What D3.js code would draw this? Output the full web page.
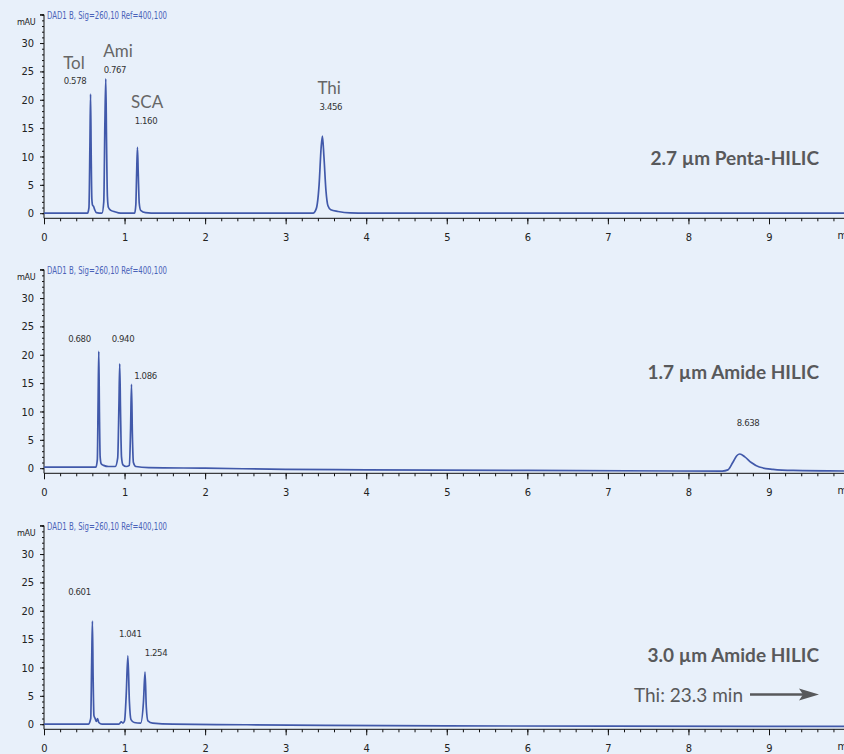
<!DOCTYPE html>
<html>
<head>
  <meta charset="utf-8">
  <script src="https://d3js.org/d3.v7.min.js"></script>
  <style>
    body { margin: 0; background: #e8f0fa; }
    svg { display: block; }
    .tick text { font-family: "Liberation Sans Narrow", "DejaVu Sans Condensed", sans-serif; font-size: 11px; fill: #222; }
    .axis path, .axis line { stroke: #111; }
    .trace { fill: none; stroke: #4159aa; stroke-width: 1.7px; }
    .sig { font-family: "Liberation Sans Narrow", "DejaVu Sans Condensed", sans-serif; font-size: 10px; fill: #4a62b8; }
    .unit { font-family: "Liberation Sans Narrow", "DejaVu Sans Condensed", sans-serif; font-size: 9px; fill: #222; letter-spacing: -0.3px; }
    .rt { font-family: "Liberation Sans Narrow", "DejaVu Sans Condensed", sans-serif; font-size: 9.5px; fill: #333; letter-spacing: -0.4px; }
    .cmp { font-family: Lato, "Open Sans", sans-serif; font-size: 17px; fill: #666; }
    .title { font-family: Lato, "Open Sans", sans-serif; font-size: 19px; font-weight: bold; fill: #58595b; }
    .note { font-family: Lato, "Open Sans", sans-serif; font-size: 19px; fill: #58595b; }
  </style>
</head>
<body>
<script>
  var width = 844,
      height = 754;

  // column names, one per panel
  var columns = ["2.7 µm Penta-HILIC", "1.7 µm Amide HILIC", "3.0 µm Amide HILIC"];
  var signal = "DAD1 B, Sig=260,10 Ref=400,100";

  // traces: [time (min), mAU]
  var pentaTrace = [
    [0, 0], [0.54, 0], [0.558, 1], [0.57, 12], [0.578, 21], [0.586, 10], [0.594, 2.5],
    [0.603, 1.4], [0.615, 1.2], [0.63, 0.6], [0.65, 0.1], [0.72, 0], [0.742, 2],
    [0.756, 16], [0.767, 23.7], [0.776, 13], [0.787, 3], [0.8, 1], [0.83, 0.5], [0.87, 0.3],
    [0.95, 0], [1.125, 0], [1.14, 1.5], [1.15, 7], [1.16, 11.6], [1.17, 7], [1.182, 1.8],
    [1.2, 0.5], [1.26, 0.1], [1.4, 0], [3.34, 0], [3.38, 0.8], [3.415, 5], [3.44, 11.5],
    [3.456, 13.6], [3.475, 10], [3.5, 4], [3.525, 1.3], [3.56, 0.6], [3.65, 0.3], [3.8, 0.05],
    [4, 0], [10, 0]
  ];
  var amide17Trace = [
    [0, 0.2], [0.5, 0.2], [0.645, 0.2], [0.662, 1.5], [0.672, 12], [0.68, 20.6], [0.688, 10],
    [0.697, 2], [0.71, 0.8], [0.74, 0.5], [0.8, 0.3], [0.885, 0.3], [0.915, 1.8], [0.93, 11],
    [0.94, 18.4], [0.95, 10], [0.962, 2], [0.98, 0.6], [1.02, 0.3], [1.06, 0.5], [1.075, 7],
    [1.086, 14.8], [1.097, 6], [1.11, 1], [1.14, 0.3], [1.3, 0.1], [2, 0], [3, -0.2], [4, -0.3],
    [6, -0.4], [8.42, -0.5], [8.49, -0.3], [8.55, 1.0], [8.6, 2.2], [8.638, 2.5], [8.7, 2.0],
    [8.78, 1.0], [8.88, 0.2], [9.05, -0.2], [9.3, -0.4], [10, -0.5]
  ];
  var amide30Trace = [
    [0, 0], [0.55, 0], [0.58, 1], [0.592, 11], [0.601, 18.2], [0.61, 8], [0.62, 1.5],
    [0.635, 1.0], [0.65, 0.5], [0.665, 1.0], [0.68, 0.3], [0.72, 0], [0.93, 0], [0.96, 0.4],
    [0.98, 0.2], [1.0, 0.6], [1.02, 5], [1.041, 12.05], [1.06, 4], [1.08, 0.8], [1.12, 0.3],
    [1.2, 0.2], [1.235, 4], [1.254, 9.2], [1.27, 3], [1.29, 0.6], [1.35, 0.2], [1.6, 0],
    [2.5, -0.1], [3.5, -0.2], [5, -0.3], [7, -0.35], [10, -0.4]
  ];
  var traces = [pentaTrace, amide17Trace, amide30Trace];

  // peak annotations: [time, mAU, text]
  var pentaNames = [[0.372, 25.5, "Tol"], [0.918, 27.6, "Ami"], [1.28, 18.5, "SCA"], [3.54, 21, "Thi"]];
  var pentaTimes = [[0.385, 22.8, "0.578"], [0.88, 24.8, "0.767"], [1.266, 15.7, "1.160"], [3.56, 18.2, "3.456"]];
  var amide17Times = [[0.44, 22.3, "0.680"], [0.98, 22.3, "0.940"], [1.26, 15.8, "1.086"], [8.74, 7.4, "8.638"]];
  var amide30Times = [[0.44, 22.7, "0.601"], [1.07, 15.3, "1.041"], [1.39, 12, "1.254"]];
  var nameLabels = [pentaNames, [], []];
  var timeLabels = [pentaTimes, amide17Times, amide30Times];

  var xTicks = d3.range(0, 10, 1);
  var yTicks = d3.range(0, 31, 5);
  var note = "Thi: 23.3 min";

  var panelTop = [0, 255, 511];

  var svg = d3.select("body")
      .append("svg")
      .attr("width", width)
      .attr("height", height);

  var x = d3.scaleLinear().domain([0, 9]).range([44, 769]);
  var y = d3.scaleLinear().domain([-0.9, 35]).range([218.3, 14.7]);

  var line = d3.line()
      .x(function(d) { return x(d[0]); })
      .y(function(d) { return y(d[1]); })
      .curve(d3.curveMonotoneX);

  for (var i = 0; i < 3; i++) {
    var g = svg.append("g").attr("transform", "translate(0," + panelTop[i] + ")");

    // x axis: minor then major
    var xBase = y(-0.9);
    g.append("g").attr("class", "axis")
        .attr("transform", "translate(0," + xBase + ")")
        .call(d3.axisBottom(x).tickValues(d3.range(0, 10.01, 0.2)).tickSize(3).tickFormat(""))
        .call(function(a) { a.select(".domain").remove(); });
    g.append("g").attr("class", "axis")
        .attr("transform", "translate(0," + xBase + ")")
        .call(d3.axisBottom(x).tickValues(xTicks).tickSize(6).tickPadding(9).tickFormat(d3.format("d")))
        .call(function(a) { a.select(".domain").remove(); });
    g.append("line")
        .attr("x1", x(0)).attr("x2", width)
        .attr("y1", xBase).attr("y2", xBase)
        .attr("stroke", "#111");
    g.append("text")
        .attr("x", x(10) - 12).attr("y", xBase + 21)
        .style("font-family", "'Liberation Sans Narrow', 'DejaVu Sans Condensed', sans-serif")
        .style("font-size", "11px").attr("fill", "#222")
        .text("min");

    // y axis: minor then major
    g.append("g").attr("class", "axis")
        .attr("transform", "translate(" + x(0) + ",0)")
        .call(d3.axisLeft(y).tickValues(d3.range(0, 35.5, 1)).tickSize(2).tickFormat(""))
        .call(function(a) { a.select(".domain").remove(); });
    g.append("g").attr("class", "axis")
        .attr("transform", "translate(" + x(0) + ",0)")
        .call(d3.axisLeft(y).tickValues(yTicks.concat([35])).tickSize(4).tickPadding(6)
          .tickFormat(function(d) { return d === 35 ? "" : d; }))
        .call(function(a) {
          a.select(".domain").attr("d", "M-4," + y(35) + "H0V" + y(-0.9));
        });

    g.append("text").attr("class", "unit")
        .attr("x", 17).attr("y", y(33.2))
        .text("mAU");
    g.append("text").attr("class", "sig")
        .attr("x", x(0) + 3).attr("y", y(34.3))
        .attr("textLength", 120).attr("lengthAdjust", "spacingAndGlyphs")
        .text(signal);

    g.append("path").datum(traces[i])
        .attr("class", "trace")
        .attr("d", line);

    g.selectAll(".cmp").data(nameLabels[i]).enter().append("text")
        .attr("class", "cmp")
        .attr("text-anchor", "middle")
        .attr("x", function(d) { return x(d[0]); })
        .attr("y", function(d) { return y(d[1]); })
        .text(function(d) { return d[2]; });

    g.selectAll(".rt").data(timeLabels[i]).enter().append("text")
        .attr("class", "rt")
        .attr("text-anchor", "middle")
        .attr("x", function(d) { return x(d[0]); })
        .attr("y", function(d) { return y(d[1]); })
        .text(function(d) { return d[2]; });

    g.append("text").attr("class", "title")
        .attr("text-anchor", "end")
        .attr("x", 819).attr("y", i === 0 ? 165 : (i === 1 ? 124 : 151))
        .text(columns[i]);
  }

  // arrow note on the last panel
  var ng = svg.append("g").attr("transform", "translate(0," + panelTop[2] + ")");
  ng.append("text").attr("class", "note")
      .attr("text-anchor", "end")
      .attr("x", 743).attr("y", 191)
      .text(note);
  ng.append("line")
      .attr("x1", 750).attr("x2", 805)
      .attr("y1", 183.5).attr("y2", 183.5)
      .attr("stroke", "#58595b").attr("stroke-width", 2.6);
  ng.append("path")
      .attr("d", "M819,183.5 L799,177.5 L803,183.5 L799,189.5 Z")
      .attr("fill", "#58595b");
</script>
</body>
</html>
